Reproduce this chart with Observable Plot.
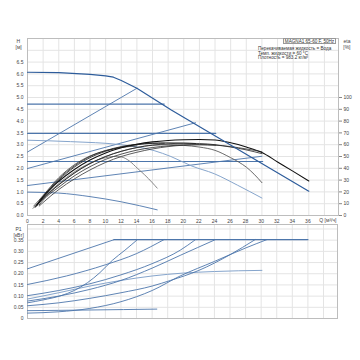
<!DOCTYPE html>
<html><head><meta charset="utf-8">
<script src="https://cdn.jsdelivr.net/npm/d3@7"></script>
<script src="https://cdn.jsdelivr.net/npm/@observablehq/plot@0.6"></script>
<style>
html,body{margin:0;padding:0;background:#fff;}
#wrap{position:relative;width:360px;height:360px;font-family:"Liberation Sans",Arial,sans-serif;color:#444;}
#wrap svg{position:absolute;left:0;}
.leg{position:absolute;font-size:4.6px;line-height:4.6px;white-space:nowrap;color:#333;}
</style></head><body>
<div id="wrap"></div>
<script>
// ---- Data (Q in m³/h, H in m, eta in %, P1 in kW) ----
const qTicks = [0,2,4,6,8,10,12,14,16,18,20,22,24,26,28,30,32,34,36,38];
const hTicks = [0,0.5,1,1.5,2,2.5,3,3.5,4,4.5,5,5.5,6,6.5];
const etaTicks = [0,10,20,30,40,50,60,70,80,90,100];
const pTicks = [0,0.05,0.1,0.15,0.2,0.25,0.3,0.35];

// QH curves (blue)
const qhMax = [[0,6.07],[4,6.05],[8,5.98],[10,5.92],[11,5.86],[12,5.72],[14,5.39],[18.4,4.47],[36,1.03]];
const qhProp1 = [[0,2.69],[14,5.39]];
const qhProp2 = [[0,1.99],[21.5,3.93]];
const qhProp3 = [[0,1.27],[30,2.51]];
const qhConst1 = [[0,4.72],[17.5,4.72]];
const qhConst2 = [[0,3.48],[24.1,3.48]];
const qhConst3 = [[0,2.29],[30.1,2.29]];
const qhFixedA = [[0,3.19],[5.5,3.13],[11.9,3.0],[16.2,2.75],[18.35,2.5],[21,2.1],[23.9,1.77],[26.9,1.28],[30,0.74]];
const qhFixedB = [[0,0.99],[4,0.95],[8,0.8],[12,0.58],[16.6,0.24]];

// Efficiency curves (eta %)
const etaMax = [[1.2,9],[2,16],[4,29],[6,39],[8,47],[10,53],[12,57.4],[14,60.4],[16,62.4],[18,63.6],[20,64.2],[22,64.4],[24,64],[26,61.6],[28,58],[30,53.4],[32,45.4],[34,37.4],[36,29.2]];
const etaE2 = [[1.2,8.4],[2,14.4],[4,26],[6,36],[8,44],[10,50],[12,54.4],[14,57.6],[16,59.6],[18,60.8],[20,61.2],[22,61],[24,60],[26,58],[28,55.6],[30,52.4]];
const etaE3 = [[1.5,9],[2,13],[4,24],[6,33.6],[8,41.4],[10,47.6],[12,52],[14,55.4],[16,57.6],[18,59],[20,59.8],[22,60],[24.1,59.6]];
const etaE4 = [[1,7],[2,15],[4,30],[6,41],[8,49],[10,54.4],[12,58],[14,60],[16,61.2],[18,61.6],[20,61.4],[21.5,61]];
const etaE5 = [[1,7.6],[2,16],[4,31],[6,42],[8,50],[10,55],[12,58.4],[14,60.4],[16,61.2],[17.5,61.2]];
const etaE6 = [[0.8,8],[2,17],[4,32],[6,43],[8,50.4],[10,55],[12,57.6],[14,59]];
const etaE7 = [[1.5,8],[2,11],[4,22],[6,31],[8,38.6],[10,45],[12,50],[14,53.6],[16,56.4],[18,58.4],[20,59.6],[22,60],[24,59.6],[26,58.4],[28,56.4],[30,54]];
const etaG1 = [[1,7],[2,14],[4,26],[6,36],[8,44],[10,50],[12,54.4],[14,57.6],[16,59.6],[18.35,60],[20,59.4],[22,58],[24,55.2],[26,49],[27,45.4],[28,41],[29,35],[30,27.8]];
const etaG2 = [[0.7,6],[2,15],[4,27],[6,37],[8,44.4],[10,49],[11,50],[12,49.6],[13,46.4],[14.1,39.8],[15,34.4],[16,27.6],[16.6,23.2]];

// P1 curves (kW)
const pFlat = [[11.1,0.352],[36,0.352]];
const pA = [[0,0.222],[11.1,0.352]];
const pB = [[0,0.152],[5,0.19],[10,0.24],[14,0.29],[17.5,0.352]];
const pS = [[0,0.07],[2,0.083],[4.3,0.102],[6,0.125],[7.7,0.16],[9.3,0.205],[10.9,0.26],[12.5,0.305],[14.1,0.352]];
const pC = [[0,0.102],[4,0.125],[8,0.155],[12,0.195],[16,0.245],[19.6,0.305],[21.55,0.352]];
const pD = [[0,0.078],[4,0.1],[8,0.13],[12,0.17],[16,0.225],[19.6,0.282],[24.1,0.352]];
const pE = [[0,0.057],[4,0.07],[8,0.09],[12,0.115],[16,0.145],[18.35,0.17],[22,0.215],[26,0.285],[29.2,0.352]];
const pF = [[0,0.024],[4,0.03],[8,0.045],[12,0.075],[16,0.125],[19.6,0.19],[24,0.255],[28,0.315],[30.7,0.352]];
const pFixedA = [[0,0.087],[4,0.115],[8,0.145],[12,0.17],[16,0.19],[20,0.203],[24,0.21],[30.1,0.215]];
const pFixedB = [[0,0.035],[8,0.038],[16.6,0.042]];

const legendTitle = "MAGNA1 65-60 F, 50Hz";
const legendLines = ["Перекачиваемая жидкость = Вода","Темп. жидкости = 60 °C","Плотность = 983.2 кг/м³"];

// ---- Drawing ----
const font = "Liberation Sans, Arial, sans-serif";
const blue = "#4d76ab", blueDark = "#2d5c9b", blueLight = "#86a5cc";
const gridC = "#e4e4e4", frameC = "#bdbdbd";
const ln = (data, stroke, w=0.9, curve="monotone-x") => Plot.line(data, {x: d=>d[0], y: d=>d[1], stroke, strokeWidth: w, curve});
const eta = (data, stroke, w=0.8) => Plot.line(data, {x: d=>d[0], y: d=>d[1]/20, stroke, strokeWidth: w, curve: "monotone-x"});

const topChart = Plot.plot({
  width: 360, height: 222,
  marginTop: 38, marginBottom: 7, marginLeft: 27, marginRight: 22,
  x: {domain: [0, 39.8], axis: null},
  y: {domain: [0, 7.5], axis: null},
  style: {fontFamily: font, fontSize: "5px", color: "#444", background: "transparent", overflow: "visible"},
  marks: [
    Plot.gridX(qTicks, {stroke: gridC, strokeOpacity: 1}),
    Plot.gridY(d3.range(0, 7.51, 0.5), {stroke: gridC, strokeOpacity: 1}),
    Plot.frame({stroke: frameC}),
    Plot.axisY(hTicks, {anchor: "left", tickSize: 0, tickPadding: 4, tickFormat: d => d.toFixed(1)}),
    Plot.axisY(etaTicks.map(e => e/20), {anchor: "right", tickSize: 3, tickPadding: 2, tickFormat: d => Math.round(d*20), stroke: "#888"}),
    Plot.text(["H"], {frameAnchor: "top-left", dx: -11, dy: 1, fontSize: 5}),
    Plot.text(["[м]"], {frameAnchor: "top-left", dx: -12, dy: 7, fontSize: 5}),
    Plot.text(["eta"], {frameAnchor: "top-right", dx: 12, dy: 1, fontSize: 5}),
    Plot.text(["[%]"], {frameAnchor: "top-right", dx: 12, dy: 7, fontSize: 5}),
    ln(qhConst1, blue, 1.1, "linear"), ln(qhConst2, blue, 1.1, "linear"), ln(qhConst3, blue, 1.1, "linear"),
    ln(qhProp1, blue, 0.9, "linear"), ln(qhProp2, blue, 0.9, "linear"), ln(qhProp3, blue, 0.9, "linear"),
    ln(qhFixedA, blueLight, 1), ln(qhFixedB, blue),
    eta(etaG2, "#7a7a7a", 0.9), eta(etaG1, "#5a5a5a", 0.9),
    eta(etaE7, "#333"), eta(etaE3, "#2a2a2a"), eta(etaE2, "#222"),
    eta(etaE6, "#333"), eta(etaE5, "#222"), eta(etaE4, "#1a1a1a"),
    eta(etaMax, "#111", 1.1),
    ln(qhMax, blueDark, 1.2, "linear")
  ]
});

const botChart = Plot.plot({
  width: 360, height: 110,
  marginTop: 10, marginBottom: 6, marginLeft: 27, marginRight: 23,
  x: {domain: [0, 39.8], axis: null},
  y: {domain: [0, 0.42], axis: null},
  style: {fontFamily: font, fontSize: "5px", color: "#444", background: "transparent", overflow: "visible"},
  marks: [
    Plot.gridX(qTicks, {stroke: gridC, strokeOpacity: 1}),
    Plot.gridY(d3.range(0, 0.41, 0.05), {stroke: gridC, strokeOpacity: 1}),
    Plot.frame({stroke: frameC}),
    Plot.axisX(qTicks, {anchor: "top", tickSize: 0, tickPadding: 2, tickFormat: d => d === 38 ? "" : d}),
    Plot.text(["Q [м³/ч]"], {frameAnchor: "top-right", dx: -1, dy: -6, fontSize: 5, textAnchor: "end"}),
    Plot.axisY(pTicks, {anchor: "left", tickSize: 0, tickPadding: 4, tickFormat: d => d === 0 ? "0" : d.toFixed(2)}),
    Plot.text(["P1"], {frameAnchor: "top-left", dx: -12, dy: 3, fontSize: 5}),
    Plot.text(["[кВт]"], {frameAnchor: "top-left", dx: -14, dy: 9, fontSize: 5}),
    ln(pFixedB, blue), ln(pFixedA, blueLight, 1),
    ln(pF, blue), ln(pE, blue), ln(pD, blue), ln(pC, blue),
    ln(pS, blue), ln(pB, blue), ln(pA, blue, 0.9, "linear"),
    ln(pFlat, blue, 1.3, "linear")
  ]
});

const wrap = document.getElementById("wrap");
topChart.style.top = "0px";
botChart.style.top = "214px";
wrap.appendChild(topChart);
wrap.appendChild(botChart);

const box = document.createElement("div");
box.className = "leg";
box.style.cssText += "left:283px;top:38px;width:53px;height:6px;border:0.6px solid #999;box-sizing:border-box;text-align:center;line-height:5.5px;background:#fff;";
box.textContent = legendTitle;
wrap.appendChild(box);
legendLines.forEach((t, i) => {
  const d = document.createElement("div");
  d.className = "leg";
  d.style.left = "258px";
  d.style.top = (47 + i*4.6) + "px";
  d.textContent = t;
  wrap.appendChild(d);
});
</script></body></html>
